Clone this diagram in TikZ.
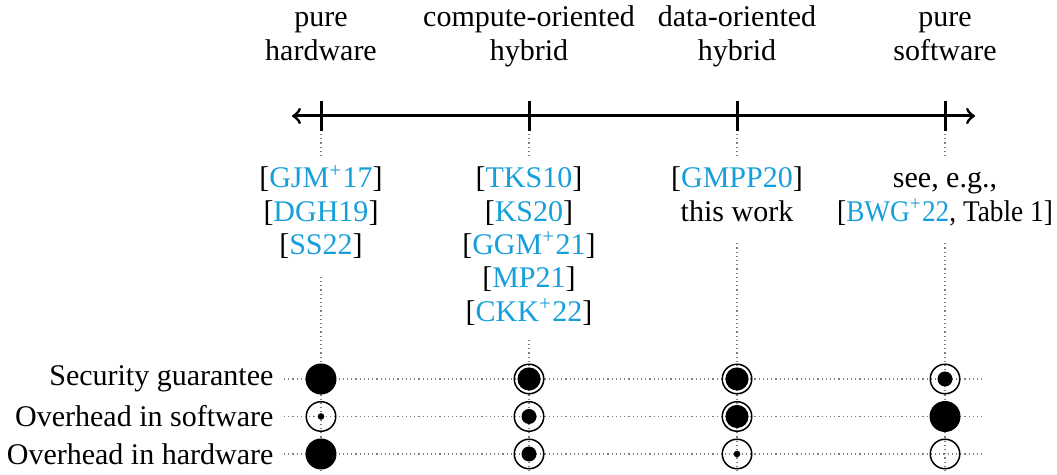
\documentclass[tikz,border=0pt]{standalone}
\usepackage{fontspec}
\usepackage{graphicx}
\setmainfont{Liberation Serif}
\definecolor{citeblue}{RGB}{23,159,219}
\newcommand\citeref[1]{[\textcolor{citeblue}{#1}]}
\newcommand\plusup{\textsuperscript{+}}
\begin{document}
\begin{tikzpicture}[x=0.3333pt,y=-0.3333pt,
  font=\fontsize{10}{11.1}\selectfont,
  head/.style={align=center, inner sep=0pt, anchor=north},
  cites/.style={align=center, inner sep=3pt, anchor=north, fill=white},
  rowlabel/.style={anchor=east, inner sep=3.33pt},
  guide/.style={densely dotted, gray, line width=0.4pt},
  axis/.style={line width=1pt},
  full/.style={circle, fill=black, inner sep=0pt, minimum size=10.33pt},
  ring/.style={circle, draw=black, line width=0.5pt, inner sep=0pt, minimum size=9.83pt},
  dotL/.style={circle, fill=black, inner sep=0pt, minimum size=7.7pt},
  dotM/.style={circle, fill=black, inner sep=0pt, minimum size=5pt},
  dotS/.style={circle, fill=black, inner sep=0pt, minimum size=2.2pt}]

\useasboundingbox (0,0) rectangle (1057,475);

% axis coordinates
\coordinate (aL) at (292,116);
\coordinate (aR) at (975,116);
\foreach \i/\x in {1/321,2/529,3/737,4/945}{
  \coordinate (tt\i) at (\x,101);
  \coordinate (tb\i) at (\x,131);
  \coordinate (gt\i) at (\x,134);
  \coordinate (gb\i) at (\x,471);
}
\foreach \j/\y in {1/379,2/416.5,3/454}{
  \coordinate (re\j) at (985,\y);
}

% row labels
\node[rowlabel] (r1) at (284,379) {Security guarantee};
\node[rowlabel] (r2) at (284,416.5) {Overhead in software};
\node[rowlabel] (r3) at (284,454) {Overhead in hardware};

% guide lines
\foreach \i in {1,2,3,4}{\draw[guide] (gt\i) -- (gb\i);}
\foreach \j in {1,2,3}{\draw[guide] (r\j.east) -- (re\j);}

% axis
\draw[axis,<->] (aL) -- (aR);
\foreach \i in {1,2,3,4}{\draw[axis] (tt\i) -- (tb\i);}

% headings
\node[head] (h1) at (321,3) {\strut pure\\\strut hardware};
\node[head] (h2) at (529,3) {\strut compute-oriented\\\strut hybrid};
\node[head] (h3) at (737,3) {\strut data-oriented\\\strut hybrid};
\node[head] (h4) at (945,3) {\strut pure\\\strut software};

% citations
\node[cites] (c1) at (321,155) {\strut\citeref{GJM\plusup17}\\\strut\citeref{DGH19}\\\strut\citeref{SS22}};
\node[cites] (c2) at (529,155) {\strut\citeref{TKS10}\\\strut\citeref{KS20}\\\strut\citeref{GGM\plusup21}\\\strut\citeref{MP21}\\\strut\citeref{CKK\plusup22}};
\node[cites] (c3) at (737,155) {\strut\citeref{GMPP20}\\\strut this work};
\node[cites] (c4) at (945,155) {\strut see, e.g.,\\\strut\scalebox{0.91}[1]{[\textcolor{citeblue}{BWG\plusup22}, Table 1]}};

% row 1: security guarantee
\node[full] (m11) at (321,379) {};
\node[ring] (m21) at (529,379) {}; \node[dotL] at (m21) {};
\node[ring] (m31) at (737,379) {}; \node[dotL] at (m31) {};
\node[ring] (m41) at (945,379) {}; \node[dotM] at (m41) {};
% row 2: overhead in software
\node[ring] (m12) at (321,416.5) {}; \node[dotS] at (m12) {};
\node[ring] (m22) at (529,416.5) {}; \node[dotM] at (m22) {};
\node[ring] (m32) at (737,416.5) {}; \node[dotL] at (m32) {};
\node[full] (m42) at (945,416.5) {};
% row 3: overhead in hardware
\node[full] (m13) at (321,454) {};
\node[ring] (m23) at (529,454) {}; \node[dotM] at (m23) {};
\node[ring] (m33) at (737,454) {}; \node[dotS] at (m33) {};
\node[ring] (m43) at (945,454) {};
\end{tikzpicture}
\end{document}
